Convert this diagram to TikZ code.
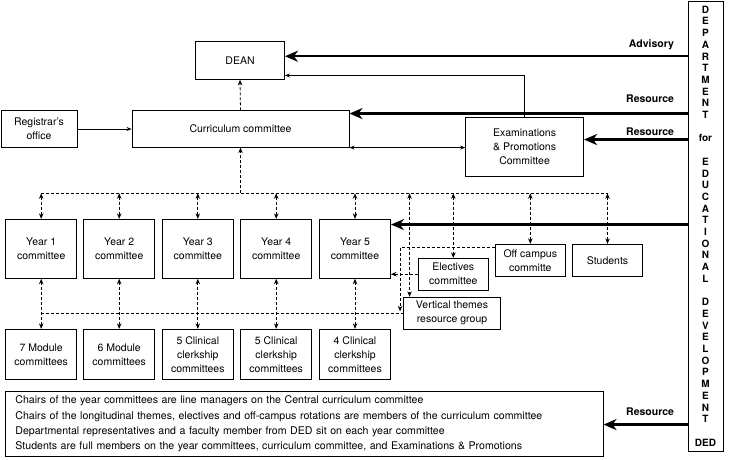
\documentclass[tikz,border=0pt]{standalone}
\usepackage{fontspec}
\setsansfont{TeX Gyre Heros}
\usetikzlibrary{arrows.meta,positioning,calc}

\begin{document}
\begin{tikzpicture}[x=1pt,y=-1pt,font=\sffamily\fontsize{10.5}{14}\selectfont,
  box/.style={draw,line width=0.9pt,align=center,inner sep=1pt},
  thickarr/.style={-{Stealth[length=13pt,width=11pt,inset=4pt]},line width=2.4pt},
  thinarr/.style={line width=0.8pt,{Stealth[length=5pt,width=4pt]}-{Stealth[length=5pt,width=4pt]}},
  dasharr/.style={line width=0.8pt,dash pattern=on 3pt off 2pt,{Stealth[length=5.5pt,width=4.5pt]}-{Stealth[length=5.5pt,width=4.5pt]}},
  lbl/.style={anchor=base east,font=\sffamily\bfseries\fontsize{10.5}{12}\selectfont,xshift=-9pt,yshift=9pt}]
  \useasboundingbox (0,0) rectangle (730,459);
  % top of the tree
  \node[box,minimum width=89,minimum height=37.6] (dean) at (240,60.5) {DEAN};
  \node[box,minimum width=217,minimum height=36.3] (cur) at (240.5,129) {Curriculum committee};
  \node[box,minimum width=76,minimum height=36.3] (reg) at (39,129) {Registrar’s\\office};
  \node[box,minimum width=118,minimum height=59.4] (exam) at (524.6,147) {Examinations\\\& Promotions\\Committee};
  % DED column
  \node[box,minimum width=35,minimum height=450,font=\sffamily\bfseries\fontsize{10}{11.7}\selectfont] (ded) at (705.5,226)
    {D\\E\\P\\A\\R\\T\\M\\E\\N\\T\\[11.7pt]for\\[11.7pt]E\\D\\U\\C\\A\\T\\I\\O\\N\\A\\L\\[11.7pt]D\\E\\V\\E\\L\\O\\P\\M\\E\\N\\T\\[11.7pt]DED};
  % year committees and the committees under them
  \foreach \n/\x in {1/41.2,2/119.2,3/197.8,4/276.2,5/355}{
    \node[box,minimum width=71,minimum height=59] (yr\n) at (\x,248.8) {Year \n\\committee};
  }
  \foreach \n/\x/\t in {1/41.2/{7 Module\\committees},2/119.2/{6 Module\\committees},3/197.8/{5 Clinical\\clerkship\\committees},4/276.2/{5 Clinical\\clerkship\\committees},5/355/{4 Clinical\\clerkship\\committees}}{
    \node[box,minimum width=71,minimum height=50] (sub\n) at (\x,354.3) {\t};
  }
  \node[box,minimum width=70,minimum height=31.7] (elec) at (453.3,274.2) {Electives\\committee};
  \node[box,minimum width=70.7,minimum height=32.4] (offc) at (530.3,260.5) {Off campus\\committe};
  \node[box,minimum width=69.6,minimum height=32.4] (stud) at (607.5,260.5) {Students};
  \node[box,minimum width=97.4,minimum height=32] (vt) at (452,313.3) {Vertical themes\\resource group};
  % notes
  \node[box,minimum width=597.3,minimum height=64.3,align=left,text width=578,font=\sffamily\fontsize{10.6}{15.4}\selectfont] (note) at (304.4,423.9)
    {Chairs of the year committees are line managers on the Central curriculum committee\\
     Chairs of the longitudinal themes, electives and off-campus rotations are members of the curriculum committee\\
     Departmental representatives and a faculty member from DED sit on each year committee\\
     Students are full members on the year committees, curriculum committee, and Examinations \& Promotions};
  % where the DED arrows leave
  \coordinate (dedA) at ($(ded.north west)+(0,55.7)$);
  \coordinate (dedB) at ($(ded.north west)+(0,113)$);
  \coordinate (dedC) at ($(ded.north west)+(0,139)$);
  \coordinate (dedD) at ($(ded.north west)+(0,224)$);
  \coordinate (dedE) at ($(ded.north west)+(0,424)$);
  \coordinate (bus) at (0,193.3);
  \coordinate (vtin) at ($(vt.north west)+(6.7,0)$);
  % DED arrows
  \draw[thickarr] (dedA) -- (dedA -| dean.east) node[lbl,pos=0] {Advisory};
  \draw[thickarr] (dedB) -- (dedB -| cur.east) node[lbl,pos=0,yshift=2pt] {Resource};
  \draw[thickarr] (dedC) -- (dedC -| exam.east) node[lbl,pos=0,yshift=-4.5pt] {Resource};
  \draw[thickarr] (dedD) -- (dedD -| yr5.east);
  \draw[thickarr] (dedE) -- (dedE -| note.east) node[lbl,pos=0] {Resource};
  % solid links
  \draw[thinarr,-{Stealth[length=5pt,width=4pt]}] (reg) -- (cur);
  \draw[thinarr] (cur.south east) -- (cur.south east -| exam.west);
  \draw[thinarr,-{Stealth[length=5pt,width=4pt]}] (exam.north) |- ($(dean.south east)+(0,-4.3)$);
  % dashed links
  \draw[dasharr,-{Stealth[length=5.5pt,width=4.5pt]}] (cur.north) -- (dean.south);
  \draw[dasharr,-] (yr1 |- bus) -- (stud |- bus);
  \draw[dasharr,-{Stealth[length=5.5pt,width=4.5pt]}] (cur.south |- bus) -- (cur.south);
  \foreach \n in {yr1,yr2,yr3,yr4,yr5,elec,offc,stud}
    \draw[dasharr] (\n |- bus) -- (\n.north);
  \draw[dasharr] (vtin |- bus) -- (vtin);
  \foreach \n in {1,...,5}
    \draw[dasharr] (yr\n.south) -- (sub\n.north);
  \draw[dasharr,-] (yr1.south |- vt.west) -- (vt.west);
  \draw[dasharr,-{Stealth[length=5.5pt,width=4.5pt]}] (elec.west) -- (elec.west -| yr5.east);
  \draw[dasharr,-{Stealth[length=5.5pt,width=4.5pt]}] ($(offc.north west)+(0,4)$) -| ($(vt.west)+(-2.8,-2)$);
\end{tikzpicture}
\end{document}
